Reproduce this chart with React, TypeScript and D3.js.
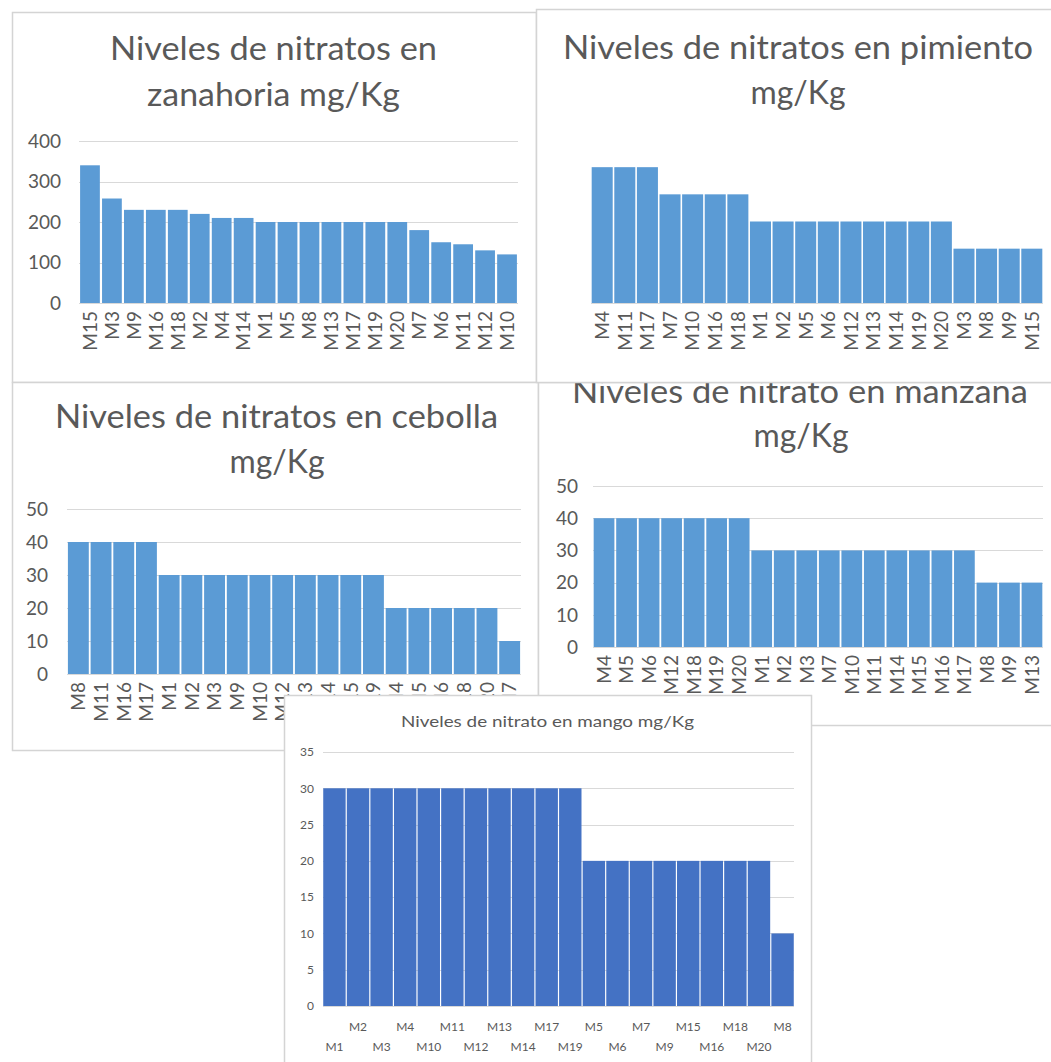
import React from "react";
import * as d3 from "d3";

// ---------- DATA ----------
const zanahoriaCats = ["M15","M3","M9","M16","M18","M2","M4","M14","M1","M5","M8","M13","M17","M19","M20","M7","M6","M11","M12","M10"];
const zanahoriaVals = [340,258,230,230,230,220,210,210,200,200,200,200,200,200,200,180,150,145,130,120];
const zanahoriaTicks = [0,100,200,300,400];

const pimientoCats = ["M4","M11","M17","M7","M10","M16","M18","M1","M2","M5","M6","M12","M13","M14","M19","M20","M3","M8","M9","M15"];
const pimientoVals = [50,50,50,40,40,40,40,30,30,30,30,30,30,30,30,30,20,20,20,20];

const cebollaCats = ["M8","M11","M16","M17","M1","M2","M3","M9","M10","M12","M13","M14","M15","M19","M4","M5","M6","M18","M20","M7"];
const cebollaVals = [40,40,40,40,30,30,30,30,30,30,30,30,30,30,20,20,20,20,20,10];
const cebollaTicks = [0,10,20,30,40,50];

const manzanaCats = ["M4","M5","M6","M12","M18","M19","M20","M1","M2","M3","M7","M10","M11","M14","M15","M16","M17","M8","M9","M13"];
const manzanaVals = [40,40,40,40,40,40,40,30,30,30,30,30,30,30,30,30,30,20,20,20];
const manzanaTicks = [0,10,20,30,40,50];

const mangoCats = ["M1","M2","M3","M4","M10","M11","M12","M13","M14","M17","M19","M5","M6","M7","M9","M15","M16","M18","M20","M8"];
const mangoVals = [30,30,30,30,30,30,30,30,30,30,30,20,20,20,20,20,20,20,20,10];
const mangoTicks = [0,5,10,15,20,25,30,35];

// ---------- STYLE ----------
const FONT = "Lato, 'Open Sans', sans-serif";
const TXT = "#595959";
const GRID = "#D9D9D9";
const BORDER = "#D4D4D4";

type TitleLine = { text: string; x: number; y: number; len: number };

type PanelProps = {
  box: [number, number, number, number];
  titles: TitleLine[];
  titleSize: number;
  cats: string[];
  vals: number[];
  ticks: number[] | null;
  yMax: number;
  plotX: [number, number];
  plotY: [number, number]; // [bottom, top]
  color: string;
  tickSize: number;
  labelX: number;
  rotated: boolean;
  padInner: number;
  padOuter: number;
  rowY?: [number, number];
};

function Panel(p: PanelProps) {
  const [bx0, by0, bx1, by1] = p.box;
  const x = d3.scaleBand<string>().domain(p.cats).range(p.plotX).paddingInner(p.padInner).paddingOuter(p.padOuter);
  const y = d3.scaleLinear().domain([0, p.yMax]).range(p.plotY);
  return (
    <g>
      <rect x={bx0 + 0.5} y={by0 + 0.5} width={bx1 - bx0} height={by1 - by0} fill="#fff" stroke={BORDER} strokeWidth={1.5} />
      {p.titles.map((t, i) => (
        <text key={i} x={t.x} y={t.y} textAnchor="middle" fontFamily={FONT} fontSize={p.titleSize} fill={TXT}
          textLength={t.len} lengthAdjust="spacingAndGlyphs">{t.text}</text>
      ))}
      {p.ticks && p.ticks.map((v) => (
        <g key={v}>
          <line x1={p.plotX[0]} x2={p.plotX[1]} y1={Math.round(y(v)) + 0.5} y2={Math.round(y(v)) + 0.5} stroke={GRID} strokeWidth={1.2} />
          <text x={p.labelX} y={y(v)} dy="0.36em" textAnchor="end" fontFamily={FONT} fontSize={p.tickSize} fill={TXT}>{v}</text>
        </g>
      ))}
      {!p.ticks && (
        <line x1={p.plotX[0]} x2={p.plotX[1]} y1={p.plotY[0] + 0.5} y2={p.plotY[0] + 0.5} stroke={GRID} strokeWidth={1.2} />
      )}
      {p.cats.map((c, i) => (
        <rect key={c} x={x(c)} y={y(p.vals[i])} width={x.bandwidth()} height={y(0) - y(p.vals[i])} fill={p.color} />
      ))}
      {p.rotated
        ? p.cats.map((c) => (
            <text key={c} transform={`translate(${(x(c) as number) + x.bandwidth() / 2},${p.plotY[0] + 8}) rotate(-90)`}
              dy="0.36em" textAnchor="end" fontFamily={FONT} fontSize={p.tickSize} fill={TXT}>{c}</text>
          ))
        : p.cats.map((c, i) => (
            <text key={c} x={(x(c) as number) + x.bandwidth() / 2} y={p.rowY ? p.rowY[i % 2 === 0 ? 1 : 0] : 0}
              textAnchor="middle" fontFamily={FONT} fontSize={p.tickSize} fill={TXT}>{c}</text>
          ))}
    </g>
  );
}

export default function App() {
  const blue = "#5B9BD5";
  return (
    <svg width={1051} height={1062} style={{ position: "absolute", left: 0, top: 0, background: "#fff" }}>
      <rect x={0} y={0} width={1051} height={1062} fill="#fff" />
      <Panel box={[12, 12, 536, 382]} titleSize={32}
        titles={[{ text: "Niveles de nitratos en", x: 273.5, y: 60, len: 327 }, { text: "zanahoria mg/Kg", x: 273.5, y: 106, len: 253 }]}
        cats={zanahoriaCats} vals={zanahoriaVals} ticks={zanahoriaTicks} yMax={400}
        plotX={[79, 518]} plotY={[303, 141]} color={blue} tickSize={19} labelX={61} rotated padInner={0.1} padOuter={0.05} />
      <Panel box={[12, 382, 538, 750]} titleSize={32}
        titles={[{ text: "Niveles de nitratos en cebolla", x: 276.5, y: 428, len: 443 }, { text: "mg/Kg", x: 277, y: 473, len: 95 }]}
        cats={cebollaCats} vals={cebollaVals} ticks={cebollaTicks} yMax={50}
        plotX={[67, 521]} plotY={[674, 509]} color={blue} tickSize={19} labelX={48} rotated padInner={0.08} padOuter={0.04} />
      <Panel box={[538, 382, 1060, 725]} titleSize={32}
        titles={[{ text: "Niveles de nitrato en manzana", x: 800, y: 403, len: 456 }, { text: "mg/Kg", x: 801, y: 447, len: 95 }]}
        cats={manzanaCats} vals={manzanaVals} ticks={manzanaTicks} yMax={50}
        plotX={[593, 1043]} plotY={[647, 486]} color={blue} tickSize={19} labelX={578} rotated padInner={0.08} padOuter={0.03} />
      <Panel box={[536, 9, 1060, 382]} titleSize={32}
        titles={[{ text: "Niveles de nitratos en pimiento", x: 798, y: 59, len: 470 }, { text: "mg/Kg", x: 798, y: 104, len: 95 }]}
        cats={pimientoCats} vals={pimientoVals} ticks={null} yMax={60}
        plotX={[591, 1043]} plotY={[303, 140]} color={blue} tickSize={19} labelX={580} rotated padInner={0.07} padOuter={0.03} />
      <Panel box={[284, 695, 811, 1070]} titleSize={16}
        titles={[{ text: "Niveles de nitrato en mango mg/Kg", x: 547.5, y: 727, len: 293 }]}
        cats={mangoCats} vals={mangoVals} ticks={mangoTicks} yMax={35}
        plotX={[323, 794]} plotY={[1006, 752]} color="#4472C4" tickSize={12} labelX={314} rotated={false}
        padInner={0.05} padOuter={0.01} rowY={[1031, 1051]} />
    </svg>
  );
}
